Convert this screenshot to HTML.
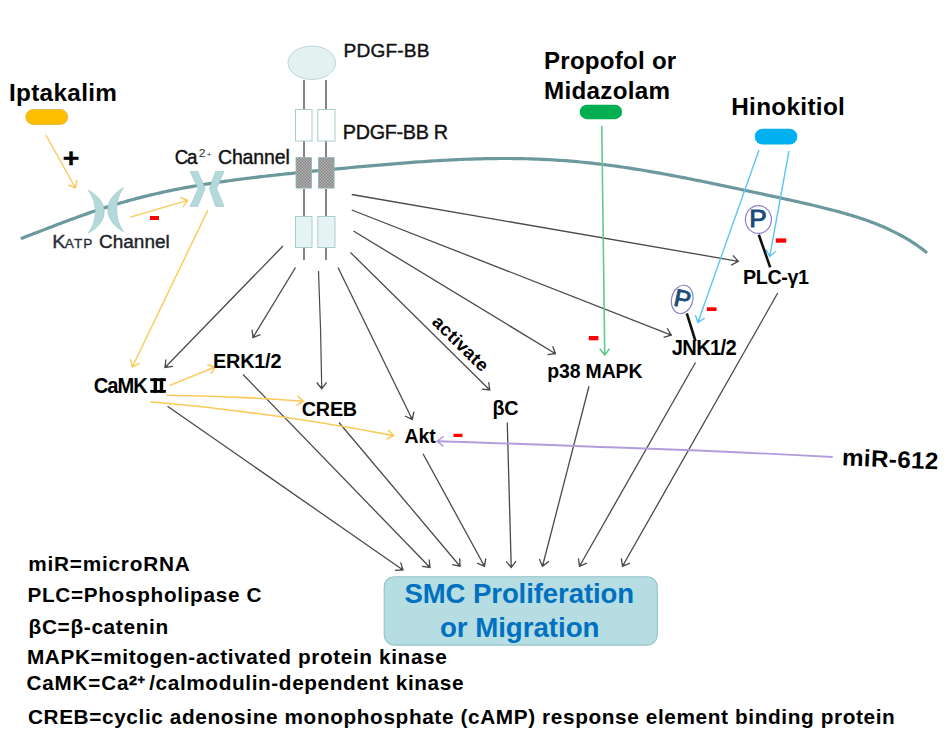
<!DOCTYPE html>
<html><head><meta charset="utf-8"><style>
html,body{margin:0;padding:0;background:#fff;}
svg{display:block;font-family:"Liberation Sans",sans-serif;}
</style></head><body>
<svg width="952" height="744" viewBox="0 0 952 744">
<rect width="952" height="744" fill="#fff"/>
<path d="M22.0,238.13 L25.0,237.00 L28.0,235.87 L31.0,234.73 L34.0,233.59 L37.0,232.43 L40.0,231.28 L43.0,230.12 L46.0,228.96 L49.0,227.81 L52.0,226.65 L55.0,225.50 L58.0,224.36 L61.0,223.22 L64.0,222.08 L67.0,220.96 L70.0,219.84 L73.0,218.74 L76.0,217.64 L79.0,216.56 L82.0,215.48 L85.0,214.42 L88.0,213.38 L91.0,212.34 L94.0,211.32 L97.0,210.32 L100.0,209.33 L103.0,208.35 L106.0,207.39 L109.0,206.45 L112.0,205.52 L115.0,204.61 L118.0,203.71 L121.0,202.83 L124.0,201.96 L127.0,201.11 L130.0,200.28 L133.0,199.47 L136.0,198.66 L139.0,197.88 L142.0,197.11 L145.0,196.36 L148.0,195.62 L151.0,194.90 L154.0,194.19 L157.0,193.50 L160.0,192.83 L163.0,192.17 L166.0,191.52 L169.0,190.89 L172.0,190.27 L175.0,189.66 L178.0,189.07 L181.0,188.49 L184.0,187.92 L187.0,187.37 L190.0,186.83 L193.0,186.30 L196.0,185.78 L199.0,185.27 L202.0,184.77 L205.0,184.29 L208.0,183.81 L211.0,183.34 L214.0,182.89 L217.0,182.44 L220.0,182.00 L223.0,181.57 L226.0,181.15 L229.0,180.73 L232.0,180.32 L235.0,179.92 L238.0,179.53 L241.0,179.14 L244.0,178.76 L247.0,178.39 L250.0,178.02 L253.0,177.66 L256.0,177.30 L259.0,176.95 L262.0,176.60 L265.0,176.26 L268.0,175.92 L271.0,175.58 L274.0,175.25 L277.0,174.93 L280.0,174.60 L283.0,174.28 L286.0,173.96 L289.0,173.65 L292.0,173.33 L295.0,173.02 L298.0,172.71 L301.0,172.41 L304.0,172.11 L307.0,171.80 L310.0,171.50 L313.0,171.21 L316.0,170.91 L319.0,170.62 L322.0,170.32 L325.0,170.03 L328.0,169.74 L331.0,169.46 L334.0,169.17 L337.0,168.88 L340.0,168.60 L343.0,168.32 L346.0,168.04 L349.0,167.76 L352.0,167.48 L355.0,167.21 L358.0,166.93 L361.0,166.66 L364.0,166.39 L367.0,166.12 L370.0,165.85 L373.0,165.59 L376.0,165.33 L379.0,165.07 L382.0,164.81 L385.0,164.55 L388.0,164.30 L391.0,164.05 L394.0,163.81 L397.0,163.56 L400.0,163.32 L403.0,163.09 L406.0,162.86 L409.0,162.63 L412.0,162.40 L415.0,162.18 L418.0,161.97 L421.0,161.75 L424.0,161.55 L427.0,161.35 L430.0,161.15 L433.0,160.96 L436.0,160.77 L439.0,160.59 L442.0,160.42 L445.0,160.25 L448.0,160.09 L451.0,159.93 L454.0,159.79 L457.0,159.64 L460.0,159.51 L463.0,159.38 L466.0,159.26 L469.0,159.15 L472.0,159.05 L475.0,158.96 L478.0,158.87 L481.0,158.79 L484.0,158.72 L487.0,158.66 L490.0,158.61 L493.0,158.57 L496.0,158.54 L499.0,158.51 L502.0,158.50 L505.0,158.50 L508.0,158.51 L511.0,158.52 L514.0,158.55 L517.0,158.59 L520.0,158.64 L523.0,158.70 L526.0,158.77 L529.0,158.85 L532.0,158.95 L535.0,159.05 L538.0,159.16 L541.0,159.29 L544.0,159.43 L547.0,159.58 L550.0,159.74 L553.0,159.91 L556.0,160.10 L559.0,160.29 L562.0,160.50 L565.0,160.72 L568.0,160.95 L571.0,161.19 L574.0,161.45 L577.0,161.71 L580.0,161.99 L583.0,162.28 L586.0,162.58 L589.0,162.89 L592.0,163.21 L595.0,163.55 L598.0,163.89 L601.0,164.24 L604.0,164.61 L607.0,164.99 L610.0,165.38 L613.0,165.77 L616.0,166.18 L619.0,166.60 L622.0,167.03 L625.0,167.47 L628.0,167.91 L631.0,168.37 L634.0,168.84 L637.0,169.31 L640.0,169.79 L643.0,170.29 L646.0,170.79 L649.0,171.30 L652.0,171.81 L655.0,172.34 L658.0,172.87 L661.0,173.41 L664.0,173.95 L667.0,174.50 L670.0,175.06 L673.0,175.63 L676.0,176.20 L679.0,176.77 L682.0,177.35 L685.0,177.94 L688.0,178.53 L691.0,179.12 L694.0,179.72 L697.0,180.32 L700.0,180.93 L703.0,181.54 L706.0,182.15 L709.0,182.77 L712.0,183.39 L715.0,184.01 L718.0,184.64 L721.0,185.26 L724.0,185.89 L727.0,186.52 L730.0,187.15 L733.0,187.78 L736.0,188.42 L739.0,189.05 L742.0,189.69 L745.0,190.33 L748.0,190.97 L751.0,191.61 L754.0,192.25 L757.0,192.89 L760.0,193.53 L763.0,194.18 L766.0,194.82 L769.0,195.47 L772.0,196.12 L775.0,196.76 L778.0,197.42 L781.0,198.07 L784.0,198.73 L787.0,199.38 L790.0,200.05 L793.0,200.71 L796.0,201.38 L799.0,202.06 L802.0,202.73 L805.0,203.42 L808.0,204.11 L811.0,204.81 L814.0,205.52 L817.0,206.23 L820.0,206.95 L823.0,207.69 L826.0,208.44 L829.0,209.20 L832.0,209.97 L835.0,210.76 L838.0,211.56 L841.0,212.39 L844.0,213.23 L847.0,214.09 L850.0,214.98 L853.0,215.88 L856.0,216.82 L859.0,217.78 L862.0,218.77 L865.0,219.80 L868.0,220.86 L871.0,221.95 L874.0,223.09 L877.0,224.26 L880.0,225.48 L883.0,226.74 L886.0,228.06 L889.0,229.42 L892.0,230.85 L895.0,232.33 L898.0,233.87 L901.0,235.48 L904.0,237.16 L907.0,238.91 L910.0,240.73 L913.0,242.64 L916.0,244.63 L919.0,246.71 L922.0,248.89 L925.0,251.16 L926.0,251.94" fill="none" stroke="#6c999d" stroke-width="3.2" stroke-linecap="round" stroke-linejoin="round"/>
<ellipse cx="311.75" cy="62.75" rx="23.75" ry="16.75" fill="#e4f1f1" stroke="#b9d6d6" stroke-width="1"/>
<line x1="304" y1="80" x2="304" y2="109" stroke="#666" stroke-width="1.6" />
<line x1="304" y1="141" x2="304" y2="157.5" stroke="#666" stroke-width="1.6" />
<line x1="304" y1="189" x2="304" y2="216" stroke="#666" stroke-width="1.6" />
<line x1="304" y1="247.5" x2="304" y2="260" stroke="#666" stroke-width="1.6" />
<line x1="326" y1="80" x2="326" y2="109" stroke="#666" stroke-width="1.6" />
<line x1="326" y1="141" x2="326" y2="157.5" stroke="#666" stroke-width="1.6" />
<line x1="326" y1="189" x2="326" y2="216" stroke="#666" stroke-width="1.6" />
<line x1="326" y1="247.5" x2="326" y2="260" stroke="#666" stroke-width="1.6" />
<defs><pattern id="hatch" width="3" height="3" patternUnits="userSpaceOnUse"><rect width="3" height="3" fill="#b4b4b4"/><rect width="1.5" height="1.5" fill="#858585"/><rect x="1.5" y="1.5" width="1.5" height="1.5" fill="#858585"/></pattern></defs>
<rect x="295.5" y="109.5" width="16.5" height="31.5" fill="#fff" stroke="#a9cccc" stroke-width="1"/>
<rect x="317.8" y="109.5" width="17.19999999999999" height="31.5" fill="#fff" stroke="#a9cccc" stroke-width="1"/>
<rect x="296" y="157.6" width="15.50" height="30.5" fill="url(#hatch)" stroke="#8fb5b8" stroke-width="0.8"/>
<rect x="318.4" y="157.6" width="15.70" height="30.5" fill="url(#hatch)" stroke="#8fb5b8" stroke-width="0.8"/>
<rect x="295.5" y="216.5" width="16.5" height="31" fill="#e6f3f3" stroke="#a9cccc" stroke-width="1"/>
<rect x="317.8" y="216.5" width="17.19999999999999" height="31" fill="#e6f3f3" stroke="#a9cccc" stroke-width="1"/>
<path d="M88.1,190.1 C95.83,194.19 104.2,201.52 104.2,211.65 C104.2,221.78 95.83,229.11 88.1,233.2 C92.06,228.03 95.3,220.70 95.3,211.65 C95.3,202.60 92.06,195.27 88.1,190.1 Z" fill="#b3d9da" stroke="#9fc9cc" stroke-width="0.7"/>
<path d="M123.5,187.7 C115.96,191.87 107.8,199.33 107.8,209.65 C107.8,219.97 115.96,227.43 123.5,231.6 C119.76,226.33 116.7,218.87 116.7,209.65 C116.7,200.43 119.76,192.97 123.5,187.7 Z" fill="#b3d9da" stroke="#9fc9cc" stroke-width="0.7"/>
<path d="M190.1,171.4 L197.8,171.4 L205,188.5 L197.8,206.4 L190.1,206.4 L198.2,188.5 Z" fill="#b3d9da" stroke="#9fc9cc" stroke-width="0.7"/>
<path d="M224,171.4 L215.6,171.4 L209.5,188.5 L215.6,206.4 L224,206.4 L216.7,188.5 Z" fill="#b3d9da" stroke="#9fc9cc" stroke-width="0.7"/>
<rect x="25.8" y="109.5" width="41.9" height="14.9" rx="7.4" fill="#ffbf00" stroke="#dcae3a" stroke-width="0.8"/>
<rect x="579.7" y="104.7" width="42.4" height="14.5" rx="7.2" fill="#00b050"/>
<rect x="754.8" y="128.8" width="42.5" height="15.7" rx="7.8" fill="#00b0f0"/>
<rect x="384.2" y="576.7" width="273.1" height="68.4" rx="10" fill="#b6dde1" stroke="#93c3c7" stroke-width="1.1"/>
<line x1="351.75" y1="194.5" x2="738.3" y2="261.3" stroke="#4a4a4a" stroke-width="1.3" />
<polyline points="732.93,255.37 738.3,261.3 731.25,265.08" fill="none" stroke="#4a4a4a" stroke-width="1.3" stroke-linejoin="miter"/>
<polygon points="736.15,258.93 738.3,261.3 735.48,262.81" fill="#4a4a4a"/>
<line x1="351.75" y1="210" x2="671.3" y2="335.1" stroke="#4a4a4a" stroke-width="1.3" />
<polyline points="667.23,328.22 671.3,335.1 663.63,337.39" fill="none" stroke="#4a4a4a" stroke-width="1.3" stroke-linejoin="miter"/>
<polygon points="669.67,332.35 671.3,335.1 668.23,336.02" fill="#4a4a4a"/>
<line x1="353.5" y1="231" x2="555.5" y2="353.75" stroke="#4a4a4a" stroke-width="1.3" />
<polyline points="552.67,346.27 555.5,353.75 547.55,354.69" fill="none" stroke="#4a4a4a" stroke-width="1.3" stroke-linejoin="miter"/>
<polygon points="554.37,350.76 555.5,353.75 552.32,354.12" fill="#4a4a4a"/>
<line x1="350.5" y1="252.5" x2="489.75" y2="390" stroke="#4a4a4a" stroke-width="1.3" />
<polyline points="488.72,382.07 489.75,390 481.80,389.08" fill="none" stroke="#4a4a4a" stroke-width="1.3" stroke-linejoin="miter"/>
<polygon points="489.34,386.83 489.75,390 486.57,389.63" fill="#4a4a4a"/>
<line x1="338" y1="267.5" x2="412.25" y2="419.5" stroke="#4a4a4a" stroke-width="1.3" />
<polyline points="413.91,411.67 412.25,419.5 405.06,416.00" fill="none" stroke="#4a4a4a" stroke-width="1.3" stroke-linejoin="miter"/>
<polygon points="412.91,416.37 412.25,419.5 409.37,418.10" fill="#4a4a4a"/>
<path d="M318.5,271 Q321,330 321.75,388.75" fill="none" stroke="#4a4a4a" stroke-width="1.2"/>
<polyline points="326.58,382.37 321.75,388.75 316.73,382.52" fill="none" stroke="#4a4a4a" stroke-width="1.3" stroke-linejoin="miter"/>
<polygon points="323.68,386.20 321.75,388.75 319.74,386.26" fill="#4a4a4a"/>
<line x1="295.5" y1="267.5" x2="253" y2="337.5" stroke="#4a4a4a" stroke-width="1.3" />
<polyline points="260.48,334.67 253,337.5 252.06,329.56" fill="none" stroke="#4a4a4a" stroke-width="1.3" stroke-linejoin="miter"/>
<polygon points="255.99,336.37 253,337.5 252.62,334.32" fill="#4a4a4a"/>
<line x1="283" y1="246" x2="165" y2="367.5" stroke="#4a4a4a" stroke-width="1.3" />
<polyline points="172.93,366.41 165,367.5 165.86,359.55" fill="none" stroke="#4a4a4a" stroke-width="1.3" stroke-linejoin="miter"/>
<polygon points="168.17,367.06 165,367.5 165.34,364.32" fill="#4a4a4a"/>
<line x1="167.5" y1="406.25" x2="403" y2="570" stroke="#4a4a4a" stroke-width="1.3" />
<polyline points="400.64,562.36 403,570 395.01,570.44" fill="none" stroke="#4a4a4a" stroke-width="1.3" stroke-linejoin="miter"/>
<polygon points="402.05,566.94 403,570 399.80,570.18" fill="#4a4a4a"/>
<line x1="243" y1="374.5" x2="430" y2="567.5" stroke="#4a4a4a" stroke-width="1.3" />
<polyline points="429.15,559.55 430,567.5 422.08,566.40" fill="none" stroke="#4a4a4a" stroke-width="1.3" stroke-linejoin="miter"/>
<polygon points="429.66,564.32 430,567.5 426.83,567.06" fill="#4a4a4a"/>
<line x1="339" y1="422.5" x2="460" y2="566.25" stroke="#4a4a4a" stroke-width="1.3" />
<polyline points="459.71,558.26 460,566.25 452.17,564.60" fill="none" stroke="#4a4a4a" stroke-width="1.3" stroke-linejoin="miter"/>
<polygon points="459.88,563.05 460,566.25 456.87,565.59" fill="#4a4a4a"/>
<line x1="423" y1="453.75" x2="484.5" y2="566.25" stroke="#4a4a4a" stroke-width="1.3" />
<polyline points="485.80,558.36 484.5,566.25 477.15,563.08" fill="none" stroke="#4a4a4a" stroke-width="1.3" stroke-linejoin="miter"/>
<polygon points="485.02,563.09 484.5,566.25 481.56,564.98" fill="#4a4a4a"/>
<line x1="507.25" y1="422.5" x2="511.25" y2="567.5" stroke="#4a4a4a" stroke-width="1.3" />
<polyline points="516.00,561.06 511.25,567.5 506.15,561.33" fill="none" stroke="#4a4a4a" stroke-width="1.3" stroke-linejoin="miter"/>
<polygon points="513.15,564.92 511.25,567.5 509.21,565.03" fill="#4a4a4a"/>
<line x1="589" y1="386.25" x2="542.5" y2="566.25" stroke="#4a4a4a" stroke-width="1.3" />
<polyline points="548.85,561.38 542.5,566.25 539.31,558.91" fill="none" stroke="#4a4a4a" stroke-width="1.3" stroke-linejoin="miter"/>
<polygon points="545.04,564.30 542.5,566.25 541.22,563.32" fill="#4a4a4a"/>
<line x1="695.5" y1="362.5" x2="579.5" y2="566.25" stroke="#4a4a4a" stroke-width="1.3" />
<polyline points="586.90,563.21 579.5,566.25 578.34,558.33" fill="none" stroke="#4a4a4a" stroke-width="1.3" stroke-linejoin="miter"/>
<polygon points="582.46,565.03 579.5,566.25 579.04,563.08" fill="#4a4a4a"/>
<line x1="777.75" y1="293" x2="622.5" y2="566.25" stroke="#4a4a4a" stroke-width="1.3" />
<polyline points="629.90,563.20 622.5,566.25 621.33,558.34" fill="none" stroke="#4a4a4a" stroke-width="1.3" stroke-linejoin="miter"/>
<polygon points="625.46,565.03 622.5,566.25 622.03,563.08" fill="#4a4a4a"/>
<line x1="45.8" y1="135" x2="75.5" y2="188" stroke="#f9ca58" stroke-width="1.4" />
<polyline points="76.71,180.09 75.5,188 68.12,184.91" fill="none" stroke="#f9ca58" stroke-width="1.4" stroke-linejoin="miter"/>
<polygon points="75.99,184.84 75.5,188 72.55,186.76" fill="#f9ca58"/>
<line x1="130.4" y1="217.1" x2="187.6" y2="200.3" stroke="#f9ca58" stroke-width="1.3" />
<polyline points="180.16,197.35 187.6,200.3 182.94,206.80" fill="none" stroke="#f9ca58" stroke-width="1.3" stroke-linejoin="miter"/>
<polygon points="184.63,199.12 187.6,200.3 185.74,202.90" fill="#f9ca58"/>
<line x1="207.7" y1="210.4" x2="132.3" y2="367" stroke="#f9ca58" stroke-width="1.4" />
<polyline points="139.47,363.46 132.3,367 130.60,359.18" fill="none" stroke="#f9ca58" stroke-width="1.4" stroke-linejoin="miter"/>
<polygon points="135.17,365.58 132.3,367 131.62,363.87" fill="#f9ca58"/>
<line x1="169.4" y1="385.6" x2="215" y2="367" stroke="#f9ca58" stroke-width="1.5" />
<polyline points="207.30,364.82 215,367 211.02,373.94" fill="none" stroke="#f9ca58" stroke-width="1.5" stroke-linejoin="miter"/>
<polygon points="211.92,366.13 215,367 213.41,369.78" fill="#f9ca58"/>
<path d="M166.5,395.3 Q235,396 303.2,401.2" fill="none" stroke="#f9ca58" stroke-width="1.6"/>
<polyline points="297.40,395.69 303.2,401.2 296.45,405.49" fill="none" stroke="#f9ca58" stroke-width="1.5" stroke-linejoin="miter"/>
<polygon points="300.88,399.00 303.2,401.2 300.50,402.92" fill="#f9ca58"/>
<path d="M150.3,401.8 Q270,412 393.5,435.6" fill="none" stroke="#f9ca58" stroke-width="1.6"/>
<polyline points="388.06,429.74 393.5,435.6 386.49,439.46" fill="none" stroke="#f9ca58" stroke-width="1.5" stroke-linejoin="miter"/>
<polygon points="391.32,433.25 393.5,435.6 390.70,437.14" fill="#f9ca58"/>
<line x1="601.75" y1="126" x2="604.75" y2="355" stroke="#62c98f" stroke-width="1.6" />
<polyline points="609.59,348.63 604.75,355 599.74,348.76" fill="none" stroke="#62c98f" stroke-width="1.6" stroke-linejoin="miter"/>
<polygon points="606.69,352.45 604.75,355 602.75,352.50" fill="#62c98f"/>
<line x1="759" y1="150" x2="697.9" y2="322.5" stroke="#5cc6f2" stroke-width="1.4" />
<polyline points="704.65,318.20 697.9,322.5 695.36,314.91" fill="none" stroke="#5cc6f2" stroke-width="1.4" stroke-linejoin="miter"/>
<polygon points="700.60,320.78 697.9,322.5 696.88,319.47" fill="#5cc6f2"/>
<line x1="789" y1="151" x2="769.7" y2="256.5" stroke="#5cc6f2" stroke-width="1.4" />
<polyline points="775.68,251.19 769.7,256.5 765.99,249.41" fill="none" stroke="#5cc6f2" stroke-width="1.4" stroke-linejoin="miter"/>
<polygon points="772.09,254.37 769.7,256.5 768.22,253.67" fill="#5cc6f2"/>
<path d="M832.75,457 Q700,450 600,447 Q500,443 437.25,441.25" fill="none" stroke="#b29ddc" stroke-width="1.8"/>
<polyline points="443.44,446.32 437.25,441.25 443.67,436.47" fill="none" stroke="#b29ddc" stroke-width="1.5" stroke-linejoin="miter"/>
<polygon points="439.73,443.28 437.25,441.25 439.82,439.34" fill="#b29ddc"/>
<ellipse cx="758.4" cy="219.5" rx="13" ry="13.9" fill="none" stroke="#8a82c8" stroke-width="1.2"/>
<ellipse cx="682.2" cy="299.4" rx="10.6" ry="14.3" transform="rotate(14 682.2 299.4)" fill="none" stroke="#8a82c8" stroke-width="1.2"/>
<line x1="758.8" y1="234.7" x2="770.2" y2="267.4" stroke="#111" stroke-width="2.6" />
<line x1="686.8" y1="313.3" x2="695.5" y2="341.1" stroke="#111" stroke-width="2.6" />
<rect x="150" y="216" width="9" height="4" fill="#ff0000"/>
<rect x="453.5" y="433.75" width="9.0" height="3.25" fill="#ff0000"/>
<rect x="588.8" y="336" width="9.600000000000023" height="4.300000000000011" fill="#ff0000"/>
<rect x="706.8" y="307.3" width="9.700000000000045" height="3.6999999999999886" fill="#ff0000"/>
<rect x="775.8" y="238.4" width="10.400000000000091" height="4.299999999999983" fill="#ff0000"/>
<text x="8.69" y="101.20" font-size="23.69" font-weight="bold" fill="#000" textLength="105.27" lengthAdjust="spacing" transform="scale(1.0264,1)" >Iptakalim</text>
<text x="534.17" y="68.90" font-size="23.69" font-weight="bold" fill="#000" textLength="129.92" lengthAdjust="spacing" transform="scale(1.0183,1)" >Propofol or</text>
<text x="532.71" y="99.20" font-size="23.69" font-weight="bold" fill="#000" textLength="123.55" lengthAdjust="spacing" transform="scale(1.0211,1)" >Midazolam</text>
<text x="711.90" y="115.00" font-size="23.69" font-weight="bold" fill="#000" textLength="110.69" lengthAdjust="spacing" transform="scale(1.0271,1)" >Hinokitiol</text>
<text x="339.38" y="57.00" font-size="18.90" font-weight="normal" fill="#111" textLength="84.96" lengthAdjust="spacing" transform="scale(1.0121,1)" stroke="#111" stroke-width="0.4">PDGF-BB</text>
<text x="350.45" y="139.00" font-size="20.20" font-weight="normal" fill="#111" textLength="107.61" lengthAdjust="spacing" transform="scale(0.9782,1)" stroke="#111" stroke-width="0.4">PDGF-BB R</text>
<text x="220.49" y="164.10" font-size="19.77" font-weight="normal" fill="#111" textLength="72.80" lengthAdjust="spacing" transform="scale(0.9884,1)" stroke="#111" stroke-width="0.4">Channel</text>
<text x="184.74" y="164.10" font-size="19.77" font-weight="normal" fill="#111" textLength="23.89" lengthAdjust="spacing" transform="scale(0.9460,1)" stroke="#111" stroke-width="0.4">Ca</text>
<text x="181.24" y="157.00" font-size="11.05" font-weight="normal" fill="#333" textLength="6.59" lengthAdjust="spacing" transform="scale(1.0969,1)" >2</text>
<text x="164.57" y="156.60" font-size="6.54" font-weight="normal" fill="#333" textLength="4.47" lengthAdjust="spacing" transform="scale(1.2566,1)" >+</text>
<text x="49.84" y="247.80" font-size="18.90" font-weight="normal" fill="#2d3038" textLength="13.10" lengthAdjust="spacing" transform="scale(1.0476,1)" stroke="#2d3038" stroke-width="0.4">K</text>
<text x="59.38" y="247.80" font-size="12.50" font-weight="normal" fill="#2d3038" textLength="25.29" lengthAdjust="spacing" transform="scale(1.0912,1)" stroke="#2d3038" stroke-width="0.3">ATP</text>
<text x="98.60" y="247.80" font-size="18.90" font-weight="normal" fill="#1d232b" textLength="70.63" lengthAdjust="spacing" transform="scale(1.0036,1)" stroke="#1d232b" stroke-width="0.4">Channel</text>
<text x="62.87" y="166.99" font-size="26.47" font-weight="bold" fill="#000" textLength="16.54" lengthAdjust="spacingAndGlyphs" stroke="#000" stroke-width="0.4">+</text>
<text x="98.71" y="392.80" font-size="21.22" font-weight="bold" fill="#000" textLength="56.97" lengthAdjust="spacing" transform="scale(0.9492,1)" >CaMK</text>
<text x="216.89" y="368.00" font-size="20.20" font-weight="bold" fill="#000" textLength="69.53" lengthAdjust="spacing" transform="scale(0.9826,1)" >ERK1/2</text>
<text x="305.86" y="415.60" font-size="20.06" font-weight="bold" fill="#000" textLength="56.10" lengthAdjust="spacing" transform="scale(0.9867,1)" >CREB</text>
<text x="407.18" y="443.00" font-size="19.62" font-weight="bold" fill="#000" textLength="31.42" lengthAdjust="spacing" transform="scale(0.9935,1)" >Akt</text>
<text x="499.52" y="415.00" font-size="19.99" font-weight="bold" fill="#000" textLength="26.29" lengthAdjust="spacing" transform="scale(0.9862,1)" >βC</text>
<text x="552.61" y="378.00" font-size="19.62" font-weight="bold" fill="#000" textLength="96.10" lengthAdjust="spacing" transform="scale(0.9903,1)" >p38 MAPK</text>
<text x="707.23" y="355.00" font-size="21.22" font-weight="bold" fill="#000" textLength="68.23" lengthAdjust="spacing" transform="scale(0.9500,1)" >JNK1/2</text>
<text x="766.43" y="283.80" font-size="20.35" font-weight="bold" fill="#000" textLength="67.96" lengthAdjust="spacing" transform="scale(0.9695,1)" >PLC-γ1</text>
<g transform="rotate(2.4 890 460)">
<text x="822.09" y="467.30" font-size="23.69" font-weight="bold" fill="#000" textLength="94.29" lengthAdjust="spacing" transform="scale(1.0241,1)" >miR-612</text>
</g>
<text x="407.32" y="603.50" font-size="27.76" font-weight="bold" fill="#0070c0" textLength="231.29" lengthAdjust="spacing" transform="scale(0.9930,1)" >SMC Proliferation</text>
<text x="441.01" y="636.80" font-size="27.76" font-weight="bold" fill="#0070c0" textLength="159.99" lengthAdjust="spacing" transform="scale(0.9975,1)" >or Migration</text>
<text x="26.56" y="571.50" font-size="19.62" font-weight="bold" fill="#000" textLength="152.54" lengthAdjust="spacing" transform="scale(1.0599,1)" >miR=microRNA</text>
<text x="25.90" y="602.30" font-size="19.62" font-weight="bold" fill="#000" textLength="221.31" lengthAdjust="spacing" transform="scale(1.0580,1)" >PLC=Phospholipase C</text>
<text x="26.92" y="634.25" font-size="19.62" font-weight="bold" fill="#000" textLength="131.78" lengthAdjust="spacing" transform="scale(1.0603,1)" >βC=β-catenin</text>
<text x="25.40" y="664.25" font-size="19.62" font-weight="bold" fill="#000" textLength="396.48" lengthAdjust="spacing" transform="scale(1.0591,1)" >MAPK=mitogen-activated protein kinase</text>
<text x="25.24" y="690.40" font-size="19.62" font-weight="bold" fill="#000" textLength="96.73" lengthAdjust="spacing" transform="scale(1.0528,1)" >CaMK=Ca</text>
<text x="129.10" y="684.50" font-size="13.29" font-weight="bold" fill="#000" textLength="7.99" lengthAdjust="spacingAndGlyphs" stroke="#000" stroke-width="0.5">2</text>
<text x="137.49" y="683.96" font-size="12.75" font-weight="bold" fill="#000" textLength="7.52" lengthAdjust="spacingAndGlyphs" stroke="#000" stroke-width="0.5">+</text>
<text x="140.90" y="690.40" font-size="19.62" font-weight="bold" fill="#000" textLength="296.89" lengthAdjust="spacing" transform="scale(1.0588,1)" >/calmodulin-dependent kinase</text>
<text x="26.37" y="724.50" font-size="19.62" font-weight="bold" fill="#000" textLength="818.71" lengthAdjust="spacing" transform="scale(1.0588,1)" >CREB=cyclic adenosine monophosphate (cAMP) response element binding protein</text>
<text x="749.21" y="227.30" font-size="24.78" font-weight="normal" fill="#1a4a7a" textLength="17.46" lengthAdjust="spacingAndGlyphs" stroke="#1a4a7a" stroke-width="0.9">P</text>
<g transform="rotate(12 682.5 299)">
<text x="674.23" y="307.20" font-size="24.20" font-weight="normal" fill="#1a4a7a" textLength="16.46" lengthAdjust="spacingAndGlyphs" stroke="#1a4a7a" stroke-width="0.9">P</text>
</g>
<g fill="#000"><rect x="150.3" y="378.3" width="15.6" height="2.8"/><rect x="150.3" y="390" width="15.6" height="2.8"/><rect x="153.6" y="378.3" width="3.4" height="14.5"/><rect x="159.8" y="378.3" width="3.4" height="14.5"/></g>
<g transform="translate(431.5,323.5) rotate(44.5)">
<text x="-0.54" y="0.00" font-size="17.88" font-weight="bold" fill="#000" textLength="68.56" lengthAdjust="spacing" transform="scale(1.0311,1)" >activate</text>
</g>
</svg></body></html>
